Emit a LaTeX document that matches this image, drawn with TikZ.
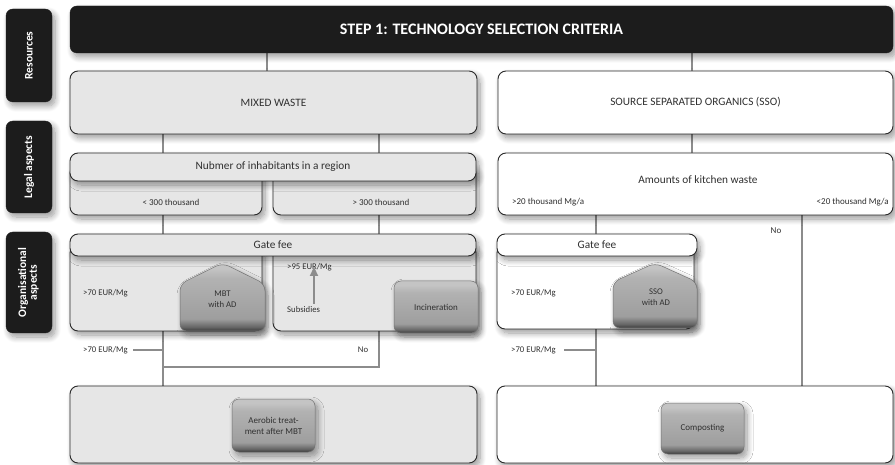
\documentclass[tikz,border=0pt]{standalone}
\usepackage{fontspec}
\setmainfont{Carlito}
\usetikzlibrary{shadows.blur,arrows.meta}
\definecolor{ink}{HTML}{1C1C1C}
\definecolor{boxgray}{HTML}{E6E6E6}
\definecolor{edge}{HTML}{2A2A2A}
\definecolor{conn}{HTML}{8C8C8C}
\definecolor{txt}{HTML}{303030}
\definecolor{shtop}{HTML}{C4C4C4}
\definecolor{shtop2}{HTML}{B2B2B2}
\definecolor{shmid}{HTML}{9E9E9E}
\definecolor{shbot2}{HTML}{666666}
\definecolor{shbot}{HTML}{3A3A3A}
\pgfdeclareverticalshading{bevel}{100bp}{color(0bp)=(shbot); color(25bp)=(shbot); color(28bp)=(shbot2); color(34bp)=(shmid); color(64bp)=(shtop2); color(71bp)=(shtop); color(100bp)=(shtop)}
\pgfdeclarelayer{bg}
\pgfsetlayers{bg,main}
\tikzset{
  shad/.style={blur shadow={shadow xshift=3pt,shadow yshift=-4pt,shadow blur radius=6pt,shadow blur steps=10,shadow opacity=40}},
  darkbox/.style={fill=ink,draw=ink,rounded corners=7pt,inner sep=0pt,outer sep=0pt,text=white,font=\bfseries\fontsize{11.5}{12.5}\selectfont,align=center,shad},
  graybox/.style={fill=boxgray,draw=edge,line width=0.9pt,rounded corners=8pt,inner sep=0pt,outer sep=0pt,text=txt,font=\fontsize{11.3}{13}\selectfont,shad},
  whitebox/.style={graybox,fill=white},
  btn/.style={draw=black!55,line width=0.5pt,rounded corners=7pt,shading=bevel,inner sep=0pt,outer sep=0pt,text=txt,font=\fontsize{9}{11}\selectfont,align=center,shad},
  housepath/.style={draw=black!55,line width=0.5pt,rounded corners=7pt,shading=bevel,shad},
  lbl/.style={text=txt,font=\fontsize{8.7}{10}\selectfont,inner sep=0pt},
  slbl/.style={text=txt,font=\fontsize{9}{10}\selectfont,inner sep=0pt},
  plain/.style={inner sep=0pt,outer sep=0pt,text=txt,font=\fontsize{8.7}{11}\selectfont,align=center},
  cn/.style={draw=conn,line width=2pt},
}
\begin{document}
\begin{tikzpicture}[x=1pt,y=-1pt]
\useasboundingbox (0,0) rectangle (895,465);
% side labels
\node[darkbox,minimum width=46pt,minimum height=93pt] (res) at (29,55.5) {\rotatebox{90}{Resources}};
\node[darkbox,minimum width=46pt,minimum height=92pt] (legal) at (29,167) {\rotatebox{90}{Legal aspects}};
\node[darkbox,minimum width=46pt,minimum height=101pt] (org) at (29,282.5) {\rotatebox{90}{\begin{tabular}{@{}c@{}}Organisational\\[-2pt]aspects\end{tabular}}};
% title
\node[darkbox,minimum width=823pt,minimum height=47pt,font=\bfseries\fontsize{16}{18}\selectfont] (title) at (481.5,29.5) {STEP 1: TECHNOLOGY SELECTION CRITERIA};
% resources row
\node[graybox,minimum width=407pt,minimum height=63pt] (mixed) at (273.5,102.5) {MIXED WASTE};
\node[whitebox,minimum width=395pt,minimum height=63pt] (sso) at (695.5,102.5) {SOURCE SEPARATED ORGANICS (SSO)};
% legal row
\node[graybox,minimum width=192pt,minimum height=50pt] (lt) at (166,190) {};
\node[graybox,minimum width=203pt,minimum height=50pt] (gt) at (374.5,190) {};
\node[graybox,minimum width=406pt,minimum height=28pt] (inhab) at (273,167) {Nubmer of inhabitants in a region};
\node[slbl] (ltl) at (171,202) {< 300 thousand};
\node[slbl] (gtl) at (381,202) {> 300 thousand};
\node[whitebox,minimum width=395pt,minimum height=62pt] (kitchen) at (695.5,184) {};
\node[inner sep=0pt,text=txt,font=\fontsize{11.3}{13}\selectfont] (kitl) at (698,180) {Amounts of kitchen waste};
\node[slbl,anchor=west] (k20a) at (512,202) {>20 thousand Mg/a};
\node[slbl,anchor=east] (k20b) at (889,202) {<20 thousand Mg/a};
% organisational row, left
\node[graybox,minimum width=192pt,minimum height=86pt] (gl) at (166,288) {};
\node[graybox,minimum width=203pt,minimum height=86pt] (gr) at (374.5,288) {};
\node[graybox,minimum width=406pt,minimum height=22pt] (gate) at (273,245) {Gate fee};
\path[housepath] (180,331) -- (180,284) -- (222.5,263) -- (265,284) -- (265,331) -- cycle;
\node[plain,minimum width=85pt,minimum height=68pt] (mbt) at (222.5,299) {MBT\\with AD};
\node[btn,minimum width=84pt,minimum height=52pt] (inc) at (436,307) {Incineration};
\node[lbl,anchor=west] (m70a) at (83,293) {>70 EUR/Mg};
\node[lbl,anchor=west] (m70b) at (83,350) {>70 EUR/Mg};
\node[lbl,anchor=west] (p95) at (287,267) {>95 EUR/Mg};
\node[lbl,anchor=west] (subs) at (287,310) {Subsidies};
\node[lbl] (nol) at (363,350) {No};
% organisational row, right
\node[whitebox,minimum width=197pt,minimum height=84pt] (sl) at (595.5,287) {};
\node[whitebox,minimum width=200pt,minimum height=22pt] (gate2) at (597,245) {Gate fee};
\path[housepath] (613,328) -- (613,282) -- (655,263) -- (697,282) -- (697,328) -- cycle;
\node[plain,minimum width=84pt,minimum height=65pt] (ssoad) at (656,297) {SSO\\with AD};
\node[lbl,anchor=west] (s70a) at (511,293) {>70 EUR/Mg};
\node[lbl,anchor=west] (s70b) at (511,350) {>70 EUR/Mg};
\node[slbl] (nor) at (776,231) {No};
% bottom row
\node[graybox,minimum width=407pt,minimum height=77pt] (botl) at (273.5,424.5) {};
\node[btn,minimum width=83pt,minimum height=53pt] (aer) at (273.5,425.5) {Aerobic treat-\\ment after MBT};
\node[whitebox,minimum width=396pt,minimum height=77pt] (botr) at (695,424.5) {};
\node[btn,minimum width=83pt,minimum height=51pt] (comp) at (702.5,428.5) {Composting};
% column coordinates
\coordinate (xa) at (267,0);
\coordinate (xb) at (692,0);
\coordinate (xc) at (163,0);
\coordinate (xd) at (379,0);
\coordinate (xe) at (596,0);
\coordinate (xf) at (802,0);
\coordinate (xg) at (314,0);
\coordinate (la) at (133,0);
\coordinate (lb) at (564,0);
\coordinate (jr) at (379,367);
\coordinate (jl) at (163,367);
% connectors
\begin{pgfonlayer}{bg}
\draw[cn] (title.south -| xa) -- (mixed.north -| xa);
\draw[cn] (title.south -| xb) -- (sso.north -| xb);
\draw[cn] (mixed.south -| xc) -- (inhab.north -| xc);
\draw[cn] (mixed.south -| xd) -- (inhab.north -| xd);
\draw[cn] (sso.south -| xb) -- (kitchen.north -| xb);
\draw[cn] (lt.south -| xc) -- (gate.north -| xc);
\draw[cn] (gt.south -| xd) -- (gate.north -| xd);
\draw[cn] (kitchen.south -| xe) -- (gate2.north -| xe);
\draw[cn] (kitchen.south -| xf) -- (botr.north -| xf);
\draw[cn] (m70a.east -| la) -- (mbt.west);
\draw[cn] (m70b.east -| la) -- (m70b.east -| xc);
\draw[cn] (gl.south -| xc) -- (botl.north -| xc);
\draw[cn] (gr.south -| xd) -- (jr) -- (jl);
\draw[cn] (s70a.east -| lb) -- (ssoad.west);
\draw[cn] (s70b.east -| lb) -- (s70b.east -| xe);
\draw[cn] (sl.south -| xe) -- (botr.north -| xe);
\end{pgfonlayer}
\draw[cn,-{Triangle[length=9pt,width=8pt]}] (subs.north -| xg) ++(0,-3) -- ([yshift=4pt]p95.south -| xg);
\end{tikzpicture}
\end{document}
